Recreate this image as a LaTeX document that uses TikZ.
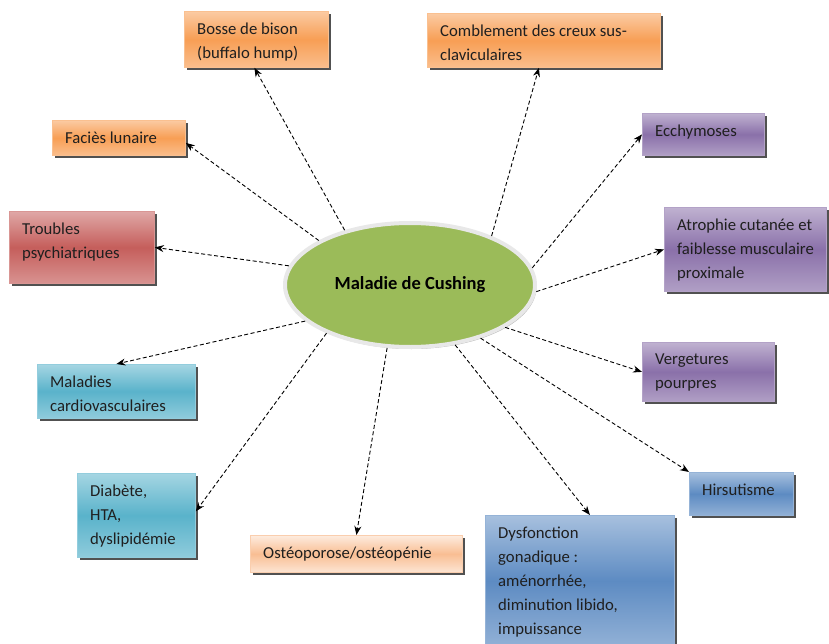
\documentclass[tikz,border=0pt]{standalone}
\usepackage{fontspec}
\setmainfont{Carlito}
\usetikzlibrary{shapes.geometric,shadows,arrows.meta}
\definecolor{cOr}{HTML}{F79646}
\definecolor{cRe}{HTML}{C0504D}
\definecolor{cPu}{HTML}{8064A2}
\definecolor{cAq}{HTML}{4BACC6}
\definecolor{cBl}{HTML}{4F81BD}
\definecolor{cGr}{HTML}{9BBB59}
\definecolor{cPe}{HTML}{F9BE93}
\tikzset{
  boxbase/.style={rectangle, anchor=north west, inner sep=0pt,
    drop shadow={shadow xshift=2.5pt, shadow yshift=-2.5pt, fill=black!80, opacity=0.85}},
  colbox/.style={boxbase, draw=#1!60!white, line width=0.8pt,
    top color=#1!50!white, bottom color=#1!62!white, middle color=#1!92!white},
  peachbox/.style={boxbase, draw=cPe!75!white, line width=0.8pt,
    top color=cPe!30!white, bottom color=cPe!40!white, middle color=cPe},
  txt/.style={anchor=north west, align=left, inner sep=0pt, text=black!88,
    font=\fontsize{16.7}{24}\selectfont},
  arr/.style={draw=black, dash pattern=on 4pt off 2.5pt, line width=0.9pt,
    -{Stealth[length=9pt,width=7pt]}}
}
\newcommand\mybox[7]{%
  \node[#6, minimum width=#4pt, minimum height=#5pt] (#1) at (#2,#3) {};
  \node[txt] (#1t) at ([xshift=13pt,yshift=-11.5pt]#1.north west) {#7};}
\begin{document}
\begin{tikzpicture}[x=1pt,y=-1pt]
\useasboundingbox (0,0) rectangle (829,644);
\fill[white] (0,0) rectangle (829,644);
\mybox{bosse}{184}{11}{144}{56}{colbox=cOr}{Bosse de bison\\(buffalo hump)}
\mybox{comb}{427}{13}{233}{54}{colbox=cOr}{Comblement des creux sus-\\claviculaires}
\mybox{fac}{52}{120}{133}{35}{colbox=cOr}{Faciès lunaire}
\mybox{ecch}{642}{113}{122}{42}{colbox=cPu}{Ecchymoses}
\mybox{trou}{9}{211}{145}{72}{colbox=cRe}{Troubles\\psychiatriques}
\mybox{atro}{664}{207}{162}{84}{colbox=cPu}{Atrophie cutanée et\\faiblesse musculaire\\proximale}
\mybox{verg}{642}{342}{132}{59}{colbox=cPu}{Vergetures\\pourpres}
\mybox{mal}{37}{364}{158}{54}{colbox=cAq}{Maladies\\cardiovasculaires}
\mybox{hirs}{689}{472}{104}{43}{colbox=cBl}{Hirsutisme}
\mybox{diab}{77}{473}{118}{84}{colbox=cAq}{Diabète,\\HTA,\\dyslipidémie}
\mybox{ost}{250}{535}{212}{37}{peachbox}{Ostéoporose/ostéopénie}
\mybox{dysf}{485}{515}{189}{131}{colbox=cBl}{Dysfonction\\gonadique :\\aménorrhée,\\diminution libido,\\impuissance}
\node[ellipse, minimum width=250pt, minimum height=124pt, inner sep=0pt,
  fill=cGr, draw=black!9, line width=4pt,
  drop shadow={shadow xshift=1.5pt, shadow yshift=-2pt, fill=black!45, opacity=0.6},
  font=\fontsize{18.5}{22}\selectfont\bfseries] (cush) at (410,285) {Maladie de Cushing};
\draw[arr] (cush.140) -- ([xshift=-2pt]bosse.south);
\draw[arr] (cush.31) -- ([xshift=-5pt]comb.south);
\draw[arr] (cush.154) -- ([yshift=-5pt]fac.east);
\draw[arr] (cush.8) -- (ecch.west);
\draw[arr] (cush.171) -- (trou.east);
\draw[arr] (cush.-3) -- (atro.west);
\draw[arr] (cush.-24) -- (verg.west);
\draw[arr] (cush.-37) -- (hirs.north west);
\draw[arr] (cush.-53) -- ([xshift=10pt]dysf.north);
\draw[arr] (cush.-110) -- (ost.north);
\draw[arr] (cush.-150) -- ([yshift=4pt]diab.east);
\draw[arr] (cush.-161) -- (mal.north);
\end{tikzpicture}
\end{document}
